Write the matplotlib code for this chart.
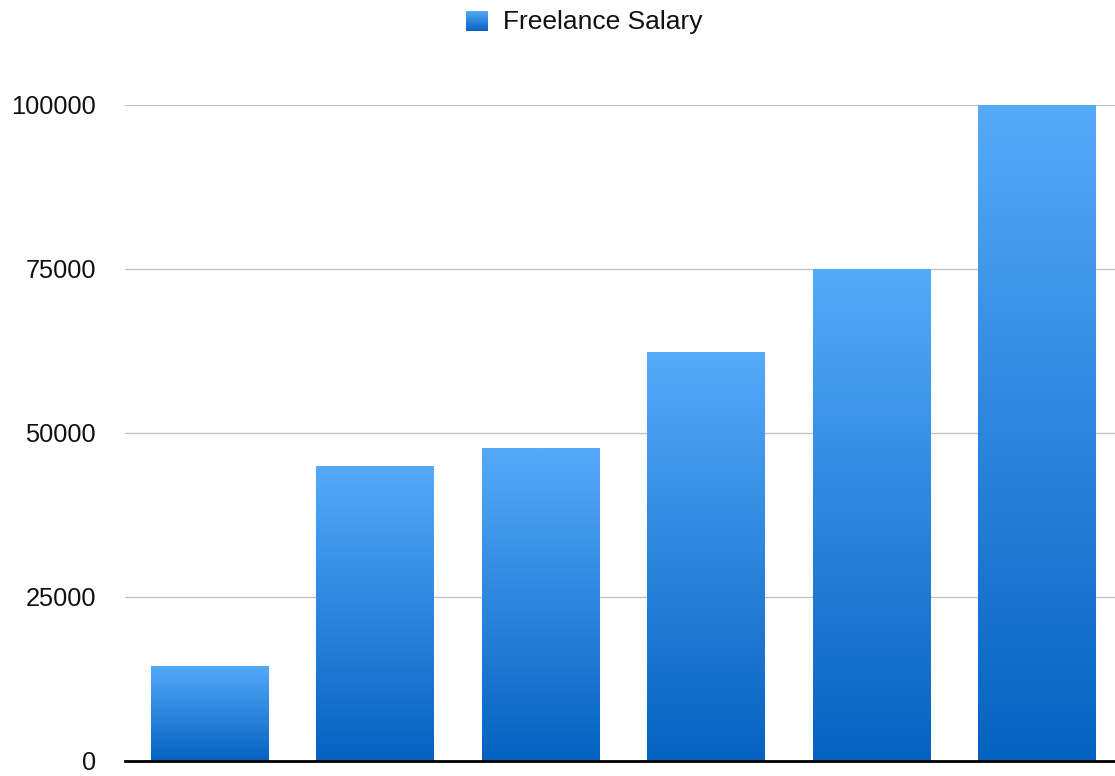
import matplotlib
matplotlib.use("Agg")
import matplotlib.pyplot as plt
import numpy as np
from matplotlib.colors import LinearSegmentedColormap

categories = ["A", "B", "C", "D", "E", "F"]
salary = [14500, 45000, 47700, 62300, 75000, 100000]
yticks = [0, 25000, 50000, 75000, 100000]
series_name = "Freelance Salary"

plt.rcParams['font.family'] = ['Liberation Sans', 'DejaVu Sans']

W, H = 1115, 776
fig = plt.figure(figsize=(W / 100, H / 100), dpi=100)
ax = fig.add_axes([125 / W, (H - 761) / H, (W - 125) / W, (761 - 105) / H])

cmap = LinearSegmentedColormap.from_list("grad", ["#0462C1", "#55AAF9"])
x = np.arange(len(categories))
bars = ax.bar(x, salary, width=0.713, color="none", edgecolor="none", zorder=3)
grad = np.linspace(0, 1, 256).reshape(-1, 1)
for b in bars:
    x0, y0 = b.get_x(), b.get_y()
    w, h = b.get_width(), b.get_height()
    im = ax.imshow(grad, cmap=cmap, aspect="auto", origin="lower",
                   extent=[x0, x0 + w, y0, y0 + h], zorder=3)
    im.set_clip_path(b)

step = 165.4
ax.set_xlim(-(210 - 125) / step, (1115 - 210) / step)
ax.set_ylim(0, 100000)
ax.set_yticks(yticks)
ax.set_yticklabels([str(t) for t in yticks])
ax.set_xticks([])
ax.tick_params(axis='y', length=0, pad=21, labelsize=18.3, colors="#111111")
ax.grid(axis='y', color="#c4c4c4", linewidth=1.0, zorder=0)
ax.set_axisbelow(True)
for s in ["top", "right", "left"]:
    ax.spines[s].set_visible(False)
ax.spines["bottom"].set_linewidth(2.0)
ax.spines["bottom"].set_color("black")
ax.spines["bottom"].set_zorder(4)

# legend
lax = fig.add_axes([466 / W, (H - 31) / H, 22 / W, 20 / H])
lax.imshow(grad, cmap=cmap, aspect="auto", origin="lower")
lax.axis("off")
fig.text(503 / W, (H - 22.5) / H, series_name, fontsize=19, va="center", ha="left",
         color="#111111")

fig.savefig("out.png", dpi=100)
